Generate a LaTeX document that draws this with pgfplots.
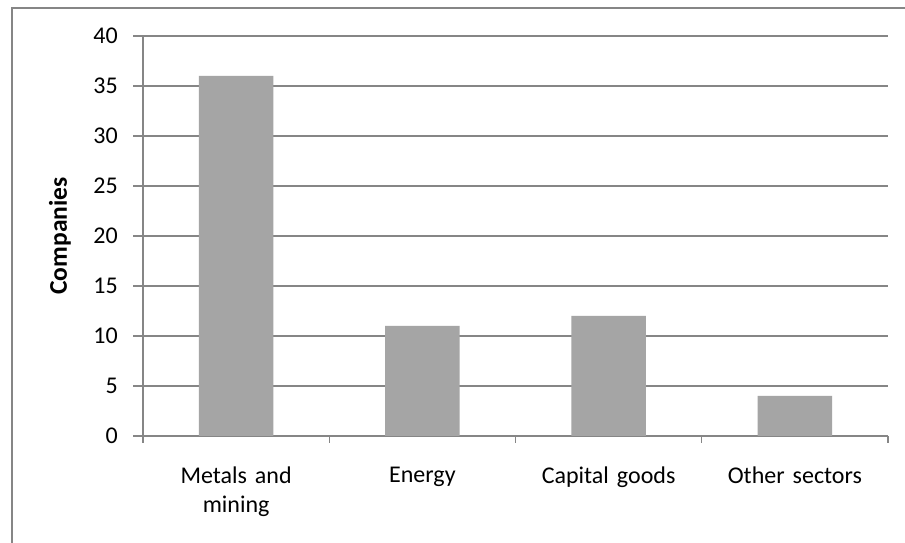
\documentclass[border=0pt]{standalone}
\usepackage{fontspec}
\setmainfont{Carlito}
\usepackage{pgfplots}
\pgfplotsset{compat=1.18}
\definecolor{gridgray}{HTML}{868686}
\definecolor{bargray}{HTML}{A5A5A5}
\begin{document}
\fontsize{24bp}{29bp}\selectfont
\begin{tikzpicture}[x=1bp,y=1bp]
\useasboundingbox (0,0) rectangle (905,543);
\fill[white] (0,0) rectangle (905,543);
% chart area frame (left and top edges)
\draw[gridgray, line width=2bp] (12,0) -- (12,535) -- (905,535);
\begin{axis}[
  at={(143bp,107bp)}, anchor=south west,
  scale only axis, width=745bp, height=400bp,
  xmin=-0.5, xmax=3.5, ymin=0, ymax=40,
  axis x line*=bottom, axis y line*=left,
  axis line style={gridgray, line width=1.3bp, -},
  ytick={0,5,...,40},
  xtick={0,1,2,3},
  xticklabels={{Metals and\\mining},Energy,{Capital goods},{Other sectors}},
  xticklabel style={align=center, text width=150bp, anchor=north, yshift=-13bp,
    font=\fontsize{24bp}{29bp}\selectfont},
  yticklabel style={xshift=-7bp},
  minor xtick={-0.5,0.5,1.5,2.5,3.5},
  ymajorgrids,
  major grid style={gridgray, line width=1.3bp},
  tick align=outside,
  major tick length=10bp, minor tick length=7bp,
  tick style={gridgray, line width=1.3bp},
  major x tick style={draw=none},
  /pgf/number format/assume math mode=true,
  ylabel={\fontsize{25.5bp}{30bp}\selectfont\bfseries Companies},
  every axis y label/.style={at={(axis description cs:-0.1114,0.5)}, rotate=90, anchor=center},
]
\addplot[ybar, bar width=0.4, fill=bargray, draw=none]
  coordinates {(0,36) (1,11) (2,12) (3,4)};
\end{axis}
\end{tikzpicture}
\end{document}
